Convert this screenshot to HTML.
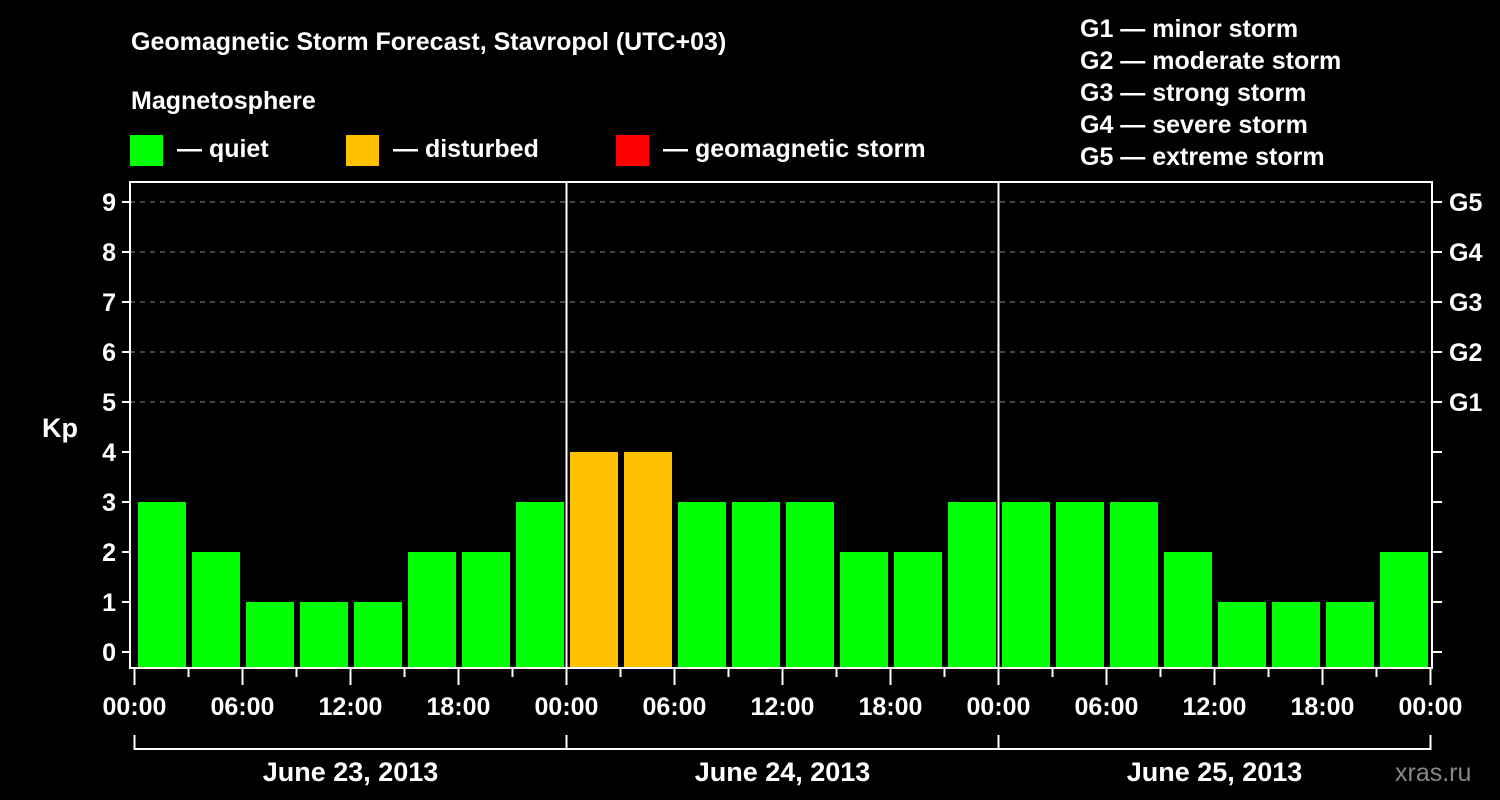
<!DOCTYPE html>
<html><head><meta charset="utf-8"><style>
html,body{margin:0;padding:0;background:#000;}
svg{display:block;font-family:"Liberation Sans",Arial,sans-serif;font-weight:bold;}
</style></head><body>
<svg id="chart" width="1500" height="800" viewBox="0 0 1500 800">
<rect width="1500" height="800" fill="#000"/>
<text x="131" y="50" fill="#fff" font-size="25">Geomagnetic Storm Forecast, Stavropol (UTC+03)</text>
<text x="131" y="109" fill="#fff" font-size="25">Magnetosphere</text>
<g><rect x="130" y="135" width="33" height="31" fill="#00ff00"/><text x="177" y="157" fill="#fff" font-size="25">— quiet</text></g>
<g><rect x="346" y="135" width="33" height="31" fill="#ffc000"/><text x="393" y="157" fill="#fff" font-size="25">— disturbed</text></g>
<g><rect x="616" y="135" width="33" height="31" fill="#ff0000"/><text x="663" y="157" fill="#fff" font-size="25">— geomagnetic storm</text></g>
<g fill="#fff" font-size="25">
<text x="1080" y="37">G1 — minor storm</text>
<text x="1080" y="69">G2 — moderate storm</text>
<text x="1080" y="101">G3 — strong storm</text>
<text x="1080" y="133">G4 — severe storm</text>
<text x="1080" y="165">G5 — extreme storm</text>
</g>
<text x="42" y="437" fill="#fff" font-size="27">Kp</text>
<text x="1395" y="781" fill="#888" font-size="25" font-weight="normal">xras.ru</text>
<g id="grid"></g><g id="bars"></g><g id="axes"></g>
</svg>
<script>
const values=[3,2,1,1,1,2,2,3, 4,4,3,3,3,2,2,3, 3,3,3,2,1,1,1,2];
const dayLabels=["June 23, 2013","June 24, 2013","June 25, 2013"];
const hourLabels=["00:00","06:00","12:00","18:00"];
const yTicks=[0,1,2,3,4,5,6,7,8,9];
const gLabels=["G1","G2","G3","G4","G5"];
const NS="http://www.w3.org/2000/svg";
const X0=134.5,SLOT=54,L=130,R=1432,T=182,B=668;
const x=i=>X0+i*SLOT;
const y=v=>652-v*50;
function mk(tag,attrs,parent,txt){const e=document.createElementNS(NS,tag);for(const k in attrs)e.setAttribute(k,attrs[k]);if(txt!==undefined)e.textContent=txt;parent.appendChild(e);return e;}
const grid=document.getElementById('grid'),bars=document.getElementById('bars'),axes=document.getElementById('axes');
yTicks.forEach(v=>{
  if(v>=5){const l=mk('line',{x1:L,x2:R,y1:y(v),y2:y(v),stroke:'#888','stroke-width':1,'stroke-dasharray':'5,5'},grid);
  
  }
  const t=mk('line',{x1:122,x2:L,y1:y(v),y2:y(v),stroke:'#fff','stroke-width':2},axes);
  
  
  const lb=mk('text',{x:116,y:y(v)+9,fill:'#fff','font-size':25,'text-anchor':'end'},axes,String(v));
  
  
  const rt=mk('line',{x1:R,x2:1442,y1:y(v),y2:y(v),stroke:'#fff','stroke-width':2},axes);
  
  
  if(v>=5){const gl=mk('text',{x:1449,y:y(v)+9,fill:'#fff','font-size':25},axes,gLabels[v-5]);
  
  }
});
values.forEach((v,i)=>{
  const col=v>=5?'#ff0000':(v>=4?'#ffc000':'#00ff00');
  const r=mk('rect',{x:x(i)+3.5,y:y(v),width:48,height:B-y(v),fill:col},bars);
  
  
});
// frame
const f=mk('rect',{x:L,y:T,width:R-L,height:B-T,fill:'none',stroke:'#fff','stroke-width':2},axes);


for(let d=1;d<dayLabels.length;d++){
  const dl=mk('line',{x1:x(d*8),x2:x(d*8),y1:T,y2:B,stroke:'#fff','stroke-width':2},axes);
  
  
}
for(let i=0;i<=values.length;i++){
  const major=i%2===0;
  const t=mk('line',{x1:x(i),x2:x(i),y1:B,y2:major?685:677,stroke:'#fff','stroke-width':2},axes);
  
  
  if(major){const lb=mk('text',{x:x(i),y:715,fill:'#fff','font-size':25,'text-anchor':'middle'},axes,hourLabels[(i/2)%4]);
  
  }
}
dayLabels.forEach((d,k)=>{
  const a=x(k*8),b=x(k*8+8);
  const br=mk('path',{d:`M${a},735 V749 H${b} V735`,fill:'none',stroke:'#fff','stroke-width':2},axes);
  
  
  const t=mk('text',{x:(a+b)/2,y:781,fill:'#fff','font-size':27,'text-anchor':'middle'},axes,d);
  
  
});
</script>
</body></html>
